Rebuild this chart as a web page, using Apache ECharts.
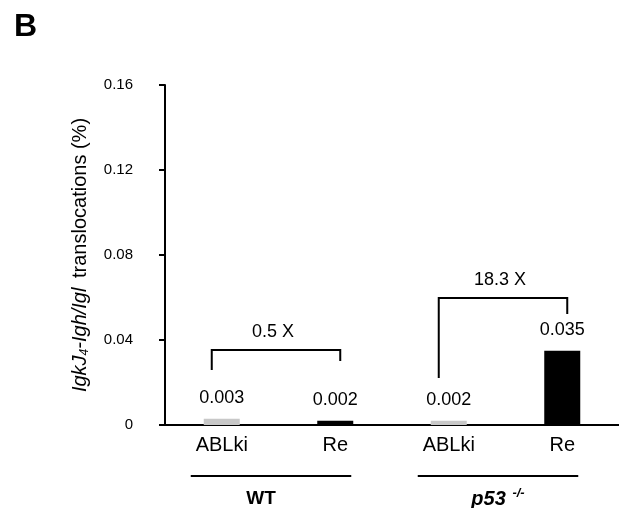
<!DOCTYPE html>
<html>
<head>
<meta charset="utf-8">
<script src="https://cdn.jsdelivr.net/npm/echarts@6/dist/echarts.min.js"></script>
<style>
  html, body { margin: 0; padding: 0; background: #fff; }
  #chart { width: 619px; height: 508px; }
</style>
</head>
<body>
<div id="chart"></div>
<script>
const categories = ['ABLki', 'Re', 'ABLki', 'Re'];
const values = [0.003, 0.002, 0.002, 0.035];
const yTicks = [0, 0.04, 0.08, 0.12, 0.16];
const yTickLabels = ['0', '0.04', '0.08', '0.12', '0.16'];

// brackets: [first bar, second bar, bracket top, left end, right end]
const bracketFrom = [0, 2];
const bracketTo = [1, 3];
const bracketTop = [0.0353, 0.0598];
const bracketLeftEnd = [0.0259, 0.0221];
const bracketRightEnd = [0.0301, 0.0522];
const foldLabels = ['0.5 X', '18.3 X'];
const groupLabels = ['WT', 'p53'];

const font = 'Liberation Sans, Arial, sans-serif';
const chart = echarts.init(document.getElementById('chart'), null, { renderer: 'canvas' });

const barColors = categories.map((c) => (c === 'ABLki' ? '#c8c8c8' : '#000'));

const bracketData = bracketFrom.map((f, i) => [f, bracketTo[i], bracketTop[i], bracketLeftEnd[i], bracketRightEnd[i]]);

const lineStyle = { stroke: '#000', lineWidth: 2 };

function renderBracket(params, api) {
    const i = params.dataIndex;
    const l = api.coord([api.value(0), api.value(2)]);
    const r = api.coord([api.value(1), api.value(2)]);
    const lEnd = api.coord([api.value(0), api.value(3)]);
    const rEnd = api.coord([api.value(1), api.value(4)]);
    const x1 = l[0] - 10, x2 = r[0] + 5;
    const axisY = api.coord([api.value(0), 0])[1];
    const gx1 = l[0] - 31, gx2 = r[0] + 16;
    const children = [
        { type: 'polyline', shape: { points: [[x1, lEnd[1]], [x1, l[1]], [x2, r[1]], [x2, rEnd[1]]] }, style: Object.assign({ fill: null }, lineStyle) },
        { type: 'text', x: (x1 + x2) / 2 - 3, y: l[1] - 18, style: { text: foldLabels[i], font: '18px ' + font, fill: '#000', align: 'center', verticalAlign: 'middle' } },
        { type: 'line', shape: { x1: gx1, y1: axisY + 51, x2: gx2, y2: axisY + 51 }, style: lineStyle }
    ];
    if (i === 0) {
        children.push({ type: 'text', x: (gx1 + gx2) / 2 - 10, y: axisY + 74, style: { text: groupLabels[i], font: 'bold 19px ' + font, fill: '#000', align: 'center', verticalAlign: 'middle' } });
    } else {
        children.push({
            type: 'text', x: (gx1 + gx2) / 2, y: axisY + 74,
            style: {
                text: '{p|' + groupLabels[i] + '}  {s|-/-}',
                align: 'center', verticalAlign: 'middle',
                rich: {
                    p: { font: 'italic bold 20px ' + font, fill: '#000' },
                    s: { font: 'italic bold 13px ' + font, fill: '#000', padding: [0, 0, 12, 0] }
                }
            }
        });
    }
    return { type: 'group', children: children };
}

const option = {
    animation: false,
    textStyle: { fontFamily: font, color: '#000' },
    graphic: [
        { type: 'text', left: 14, top: 11, style: { text: 'B', font: 'bold 32px ' + font, fill: '#000' } }
    ],
    grid: { left: 165, right: -2, top: 85, bottom: 83 },
    xAxis: {
        type: 'category',
        data: categories,
        axisLine: { lineStyle: { color: '#000', width: 2 } },
        axisTick: { show: false },
        axisLabel: { color: '#000', fontSize: 20, margin: 10, fontFamily: font, interval: 0 }
    },
    yAxis: {
        type: 'value',
        min: yTicks[0],
        max: yTicks[yTicks.length - 1],
        interval: 0.04,
        splitLine: { show: false },
        axisLine: { show: true, lineStyle: { color: '#000', width: 2 } },
        axisTick: { show: true, length: 6, lineStyle: { color: '#000', width: 2 } },
        axisLabel: {
            color: '#000', fontSize: 15, margin: 32, fontFamily: font,
            formatter: (v) => {
                const k = yTicks.findIndex((t) => Math.abs(t - v) < 1e-9);
                return k >= 0 ? yTickLabels[k] : '';
            }
        },
        name: '{i|IgkJ}{sub|4}{i|-Igh/Igl}{n| translocations (%)}',
        nameLocation: 'middle',
        nameRotate: 90,
        nameGap: 74,
        nameTextStyle: {
            rich: {
                i: { fontSize: 20, fontStyle: 'italic', fontFamily: font, color: '#000' },
                sub: { fontSize: 12, fontStyle: 'italic', fontFamily: font, color: '#000', padding: [9, 0, 0, 0] },
                n: { fontSize: 20, fontFamily: font, color: '#000', padding: [0, 0, 0, 4] }
            }
        }
    },
    series: [
        {
            type: 'bar',
            barWidth: 36,
            data: values.map((v, i) => ({ value: v, itemStyle: { color: barColors[i] } })),
            label: { show: true, position: 'top', distance: 12, fontSize: 18, color: '#000', fontFamily: font, formatter: '{c}' }
        },
        {
            type: 'custom',
            clip: false,
            z: 5,
            encode: { x: [0, 1], y: [2, 3, 4] },
            data: bracketData,
            renderItem: renderBracket
        }
    ]
};

chart.setOption(option);
</script>
</body>
</html>
